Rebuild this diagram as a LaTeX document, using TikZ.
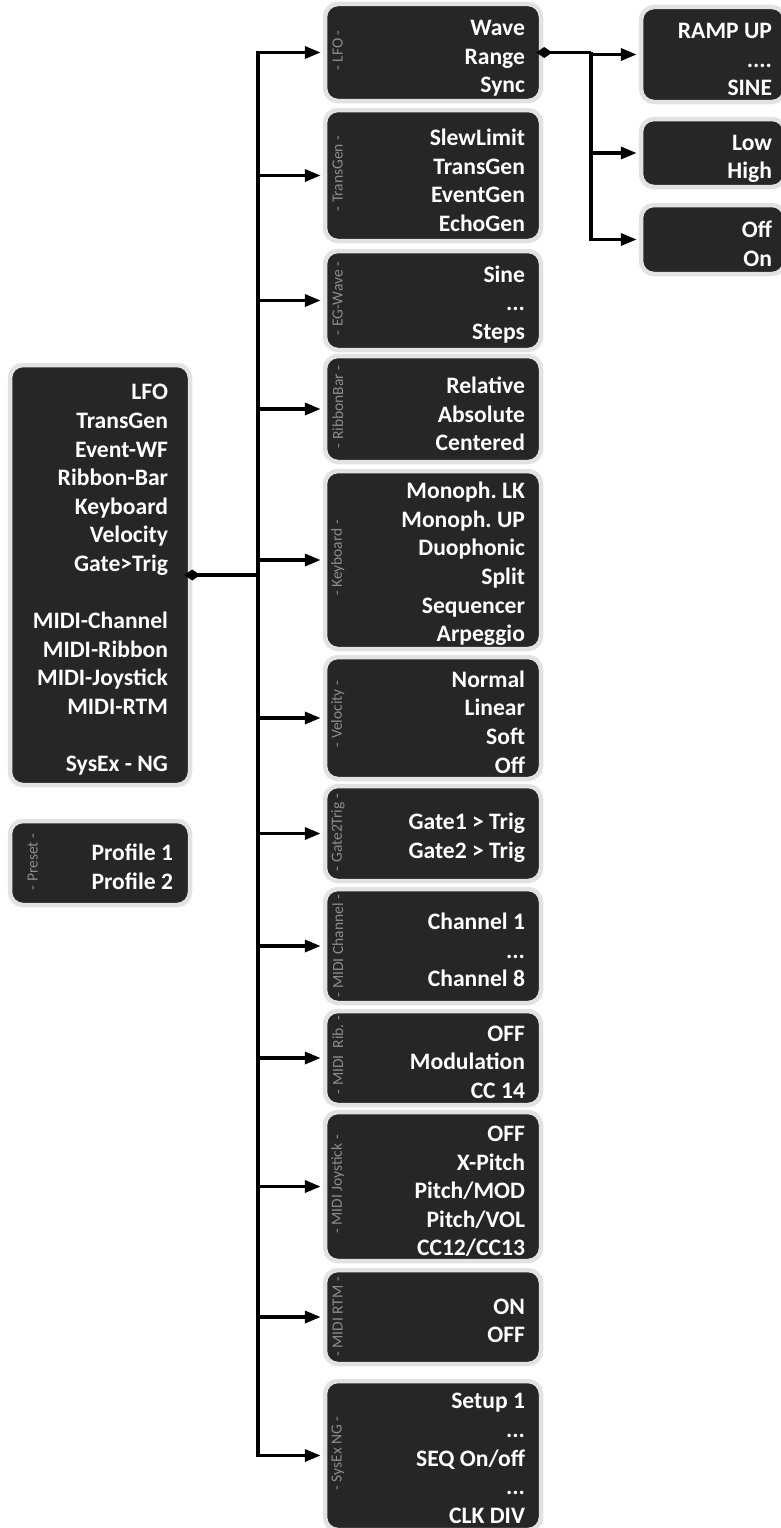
\documentclass[tikz,border=0pt]{standalone}
\usepackage{fontspec}
\setmainfont{Carlito}
\usetikzlibrary{arrows.meta}
\definecolor{panel}{HTML}{262626}
\definecolor{rim}{HTML}{E2E2E2}
\definecolor{tagtext}{HTML}{8C8C8C}
\frenchspacing

\begin{document}
\begin{tikzpicture}[x=1pt,y=-1pt,
  menu/.style={draw=rim, line width=4.5pt, fill=panel, rounded corners=13pt, inner sep=0pt},
  sub/.style={menu, minimum width=216pt},
  leaf/.style={menu, minimum width=144pt},
  items/.style={text=white, inner sep=0pt, align=flush right, text width=#1,
    font=\fontsize{23.6}{28.6}\selectfont\bfseries},
  tag/.style={rotate=90, text=tagtext, inner sep=0pt,
    font=\fontsize{15.5}{16}\selectfont},
  link/.style={line width=3.5pt, draw=black},
  feed/.style={link, -{Triangle[length=16pt,width=12pt]}, shorten >=2pt},
  src/.style={link, {Diamond[length=16pt,width=11pt]}-}
]
\useasboundingbox (0,0) rectangle (781,1528);

% main selector and preset
\node[menu, minimum width=180pt, minimum height=420pt] (main) at (100,575) {};
\node[items=136pt] (main-items) at ([yshift=-5pt]main.center)
  {LFO\\TransGen\\Event-WF\\Ribbon-Bar\\Keyboard\\Velocity\\Gate>Trig\\[28.6pt]MIDI-Channel\\MIDI-Ribbon\\MIDI-Joystick\\MIDI-RTM\\[28.6pt]SysEx - NG};
\node[menu, minimum width=180pt, minimum height=84pt] (preset) at (100,863) {};
\node[items=146pt] (preset-items) at ([yshift=-4pt]preset.center) {Profile 1\\Profile 2};
\node[tag] (preset-tag) at ([xshift=25pt,yshift=1pt]preset.west) {- Preset -};

% sub menus
\node[sub, minimum height=97pt]  (lfo)      at (433,52.5)   {};
\node[sub, minimum height=131pt] (transgen) at (433,175.5)  {};
\node[sub, minimum height=99pt]  (egwave)   at (433,300.5)  {};
\node[sub, minimum height=106pt] (ribbon)   at (433,409)    {};
\node[sub, minimum height=178pt] (keyboard) at (433,560)    {};
\node[sub, minimum height=122pt] (velocity) at (433,718)    {};
\node[sub, minimum height=95pt]  (gate)     at (433,833.5)  {};
\node[sub, minimum height=114pt] (channel)  at (433,946)    {};
\node[sub, minimum height=94pt]  (midirib)  at (433,1058)   {};
\node[sub, minimum height=149pt] (joystick) at (433,1186.5) {};
\node[sub, minimum height=94pt]  (rtm)      at (433,1317)   {};
\node[sub, minimum height=149pt] (sysex)    at (433,1455.5) {};

% entries of the sub menus
\node[items=184pt] (lfo-items)      at ([yshift=-6pt]lfo.center)      {Wave\\Range\\Sync};
\node[items=184pt] (transgen-items) at ([yshift=-5pt]transgen.center) {SlewLimit\\TransGen\\EventGen\\EchoGen};
\node[items=184pt] (egwave-items)   at ([yshift=-4pt]egwave.center)   {Sine\\...\\Steps};
\node[items=184pt] (ribbon-items)   at ([yshift=-5pt]ribbon.center)   {Relative\\Absolute\\Centered};
\node[items=184pt] (keyboard-items) at ([yshift=-4pt]keyboard.center) {Monoph. LK\\Monoph. UP\\Duophonic\\Split\\Sequencer\\Arpeggio};
\node[items=184pt] (velocity-items) at ([yshift=-4pt]velocity.center) {Normal\\Linear\\Soft\\Off};
\node[items=184pt] (gate-items)     at ([yshift=-4pt]gate.center)     {Gate1 > Trig\\Gate2 > Trig};
\node[items=184pt] (channel-items)  at ([yshift=-4pt]channel.center)  {Channel 1\\...\\Channel 8};
\node[items=184pt] (midirib-items)  at ([yshift=-4pt]midirib.center)  {OFF\\Modulation\\CC 14};
\node[items=184pt] (joystick-items) at ([yshift=-5pt]joystick.center) {OFF\\X-Pitch\\Pitch/MOD\\Pitch/VOL\\CC12/CC13};
\node[items=184pt] (rtm-items)      at ([yshift=-4pt]rtm.center)      {ON\\OFF};
\node[items=184pt] (sysex-items)    at ([yshift=-3pt]sysex.center)    {Setup 1\\...\\SEQ On/off\\...\\CLK DIV};

% side captions of the sub menus
\node[tag] (lfo-tag)      at ([xshift=15pt,yshift=2pt]lfo.west)      {- LFO -};
\node[tag] (transgen-tag) at ([xshift=15pt,yshift=2pt]transgen.west) {- TransGen -};
\node[tag] (egwave-tag)   at ([xshift=15pt,yshift=2pt]egwave.west)   {- EG-Wave -};
\node[tag] (ribbon-tag)   at ([xshift=15pt,yshift=2pt]ribbon.west)   {- RibbonBar -};
\node[tag] (keyboard-tag) at ([xshift=15pt,yshift=2pt]keyboard.west) {- Keyboard -};
\node[tag] (velocity-tag) at ([xshift=15pt,yshift=4pt]velocity.west) {- Velocity -};
\node[tag] (gate-tag)     at ([xshift=15pt,yshift=1pt]gate.west)     {- Gate2Trig -};
\node[tag] (channel-tag)  at ([xshift=15pt]channel.west)             {- MIDI Channel -};
\node[tag] (midirib-tag)  at ([xshift=15pt,yshift=3pt]midirib.west)  {- MIDI~~Rib. -};
\node[tag] (joystick-tag) at ([xshift=15pt,yshift=2pt]joystick.west) {- MIDI Joystick -};
\node[tag] (rtm-tag)      at ([xshift=15pt]rtm.west)                 {- MIDI RTM -};
\node[tag] (sysex-tag)    at ([xshift=15pt,yshift=2pt]sysex.west)    {- SysEx NG -};

% LFO option lists
\node[leaf, minimum height=95pt] (ramp)  at (713,54.5)  {};
\node[leaf, minimum height=68pt] (range) at (713,153)   {};
\node[leaf, minimum height=69pt] (sync)  at (713,239.5) {};
\node[items=118pt] (ramp-items)  at ([yshift=-5pt]ramp.center)  {RAMP UP\\....\\SINE};
\node[items=118pt] (range-items) at ([yshift=-6pt]range.center) {Low\\High};
\node[items=118pt] (sync-items)  at ([yshift=-4pt]sync.center)  {Off\\On};

% connectors
\coordinate (spine) at (258,0);
\coordinate (fork) at (591,0);

\draw[src] ([xshift=-8pt]main.east) -- (spine |- main.east);
\draw[feed] (spine |- main.east) |- (lfo.west);
\draw[feed] (spine |- main.east) |- (sysex.west);
\foreach \b in {transgen,egwave,ribbon,keyboard,velocity,gate,channel,midirib,joystick,rtm}
  \draw[feed] (spine |- \b.west) -- (\b.west);

\draw[src] ([xshift=-7pt]lfo.east) -- (fork |- lfo.east);
\draw[feed] (fork |- lfo.east) |- (sync.west);
\draw[feed] (fork |- ramp.west) -- (ramp.west);
\draw[feed] (fork |- range.west) -- (range.west);
\end{tikzpicture}
\end{document}
